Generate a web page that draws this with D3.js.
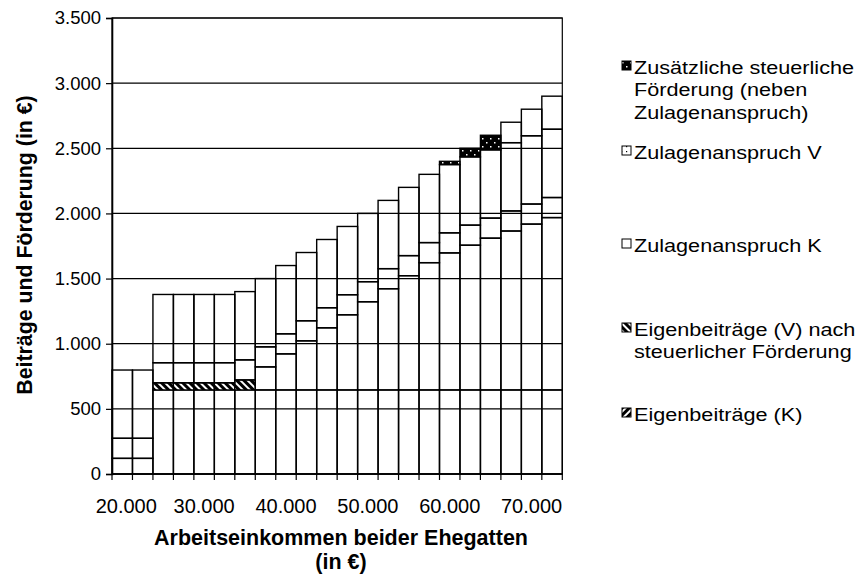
<!DOCTYPE html>
<html><head><meta charset="utf-8">
<script src="https://cdn.jsdelivr.net/npm/d3@7"></script>
<style>
body{margin:0;background:#fff;}
svg{display:block;font-family:"Liberation Sans",Arial,sans-serif;}
</style></head><body>
<div id="chart"></div>
<script>
// ---- data ----
const categories = [20000,22500,25000,27500,30000,32500,35000,37500,40000,42500,45000,47500,50000,52500,55000,57500,60000,62500,65000,67500,70000,72500];
const tickLabels = ["20.000","30.000","40.000","50.000","60.000","70.000"];
const tickLabelCats = [20000,30000,40000,50000,60000,70000];
const yTicks = [0,500,1000,1500,2000,2500,3000,3500];
const eigenK   = [120,120,645,645,645,645,645,645,645,645,645,645,645,645,645,645,645,645,645,645,645,645];
const eigenV   = [0,0,55,55,55,55,77,177,277,377,477,577,677,777,877,977,1052,1111,1165,1220,1273,1323];
const zulageK  = [154,154,154,154,154,154,154,154,154,154,154,154,154,154,154,154,154,154,154,154,154,154];
const zulageV  = [524,524,524,524,524,524,524,524,524,524,524,524,524,524,524,524,524,524,524,524,524,524];
const zusatz   = [0,0,0,0,0,0,0,0,0,0,0,0,0,0,0,0,25,66,112,157,204,254];
const seriesKeys = ["eigenK","eigenV","zulageK","zulageV","zusatz"];

// ---- setup ----
const W=861,H=575;
const svg=d3.select("#chart").append("svg").attr("width",W).attr("height",H);
const defs=svg.append("defs");
function hatch(id,angle){
  const p=defs.append("pattern").attr("id",id).attr("patternUnits","userSpaceOnUse")
    .attr("width",5).attr("height",5).attr("patternTransform",`rotate(${angle})`);
  p.append("rect").attr("width",5).attr("height",5).attr("fill","#000");
  p.append("rect").attr("width",2).attr("height",5).attr("fill","#fff");
}
hatch("hatchK",45);
hatch("hatchV",-45);
{
  const p=defs.append("pattern").attr("id","dotsBlack").attr("patternUnits","userSpaceOnUse").attr("width",8).attr("height",8);
  p.append("rect").attr("width",8).attr("height",8).attr("fill","#000");
  p.append("rect").attr("x",2).attr("y",2).attr("width",1.5).attr("height",1.5).attr("fill","#fff");
  p.append("rect").attr("x",6).attr("y",6).attr("width",1.5).attr("height",1.5).attr("fill","#fff");
  const q=defs.append("pattern").attr("id","dotsWhite").attr("patternUnits","userSpaceOnUse").attr("width",5).attr("height",5);
  q.append("rect").attr("width",5).attr("height",5).attr("fill","#fff");
  q.append("rect").attr("x",1).attr("y",1).attr("width",1.2).attr("height",1.2).attr("fill","#000");
}
const legendFill={eigenK:"url(#hatchK)",eigenV:"url(#hatchV)",zulageK:"#fff",zulageV:"url(#dotsWhite)",zusatz:"url(#dotsBlack)"};

const L=112,R=562.3,T=18,B=474;
const x=d3.scaleBand().domain(categories).range([L,R]).padding(0);
const y=d3.scaleLinear().domain([0,3500]).range([B,T]);
const de=d3.formatLocale({decimal:",",thousands:".",grouping:[3],currency:["","€"]});
const fmt=de.format(",d");

// gridlines
svg.append("g").selectAll("line").data(yTicks.filter(v=>v>0)).join("line")
  .attr("x1",L).attr("x2",R).attr("y1",d=>y(d)).attr("y2",d=>y(d))
  .attr("stroke","#000").attr("stroke-width",1.2);

// stacked bars
const rows=categories.map((c,i)=>({cat:c,eigenK:eigenK[i],eigenV:eigenV[i],zulageK:zulageK[i],zulageV:zulageV[i],zusatz:zusatz[i]}));
const stack=d3.stack().keys(seriesKeys)(rows);
function barFill(key,h){
  // thin segments show their pattern, larger ones appear unfilled as in the source
  if(key==="eigenV" && h<18) return "url(#hatchV)";
  if(key==="zusatz" && h<18) return "url(#dotsBlack)";
  return "none";
}
const g=svg.append("g");
stack.forEach(s=>{
  g.append("g").selectAll("rect").data(s.filter(d=>d[1]-d[0]>0)).join("rect")
    .attr("x",d=>x(d.data.cat)).attr("width",x.bandwidth())
    .attr("y",d=>y(d[1])).attr("height",d=>y(d[0])-y(d[1]))
    .attr("fill",d=>barFill(s.key,y(d[0])-y(d[1])))
    .attr("stroke","#000").attr("stroke-width",1.4);
});

// plot border
svg.append("rect").attr("x",L).attr("y",T).attr("width",R-L).attr("height",B-T)
  .attr("fill","none").attr("stroke","#000").attr("stroke-width",1.2);

// y axis
const ya=svg.append("g").attr("transform",`translate(${L},0)`)
  .call(d3.axisLeft(y).tickValues(yTicks).tickSize(6).tickPadding(5).tickFormat(fmt));
ya.select(".domain").attr("stroke","#000").attr("stroke-width",1.6);
ya.selectAll(".tick line").attr("stroke","#000").attr("stroke-width",1.2);
ya.selectAll("text").attr("font-size",18.5).attr("fill","#000").attr("font-family","Liberation Sans, Arial, sans-serif");

// x axis
svg.append("line").attr("x1",L).attr("x2",R).attr("y1",B).attr("y2",B).attr("stroke","#000").attr("stroke-width",1.6);
const edges=categories.map(c=>x(c)).concat([x(categories[categories.length-1])+x.bandwidth()]);
svg.append("g").selectAll("line").data(edges).join("line")
  .attr("x1",d=>d).attr("x2",d=>d).attr("y1",B).attr("y2",B+6)
  .attr("stroke","#000").attr("stroke-width",1.2);
svg.append("g").selectAll("text").data(tickLabelCats).join("text")
  .attr("x",(d,i)=>x(d)+x.bandwidth()/2+(i===0?4:0)).attr("y",513)
  .attr("text-anchor","middle").attr("font-size",20).attr("fill","#000")
  .text((d,i)=>tickLabels[i]);

// axis titles
const xt=svg.append("text").attr("text-anchor","middle")
  .attr("font-size",21.5).attr("font-weight","bold").attr("fill","#000");
xt.append("tspan").attr("x",341).attr("y",545).text("Arbeitseinkommen beider Ehegatten");
xt.append("tspan").attr("x",341).attr("y",569).text("(in €)");
svg.append("text").attr("transform","translate(32,245) rotate(-90)")
  .attr("text-anchor","middle").attr("font-size",21.3).attr("font-weight","bold").attr("fill","#000")
  .text("Beiträge und Förderung (in €)");

// legend (top entry = top series)
const legendItems=[
  {key:"zusatz",lines:["Zusätzliche steuerliche","Förderung (neben","Zulagenanspruch)"],y:74},
  {key:"zulageV",lines:["Zulagenanspruch V"],y:159},
  {key:"zulageK",lines:["Zulagenanspruch K"],y:252},
  {key:"eigenV",lines:["Eigenbeiträge (V) nach","steuerlicher Förderung"],y:336},
  {key:"eigenK",lines:["Eigenbeiträge (K)"],y:421}
];
const lg=svg.append("g");
legendItems.forEach(it=>{
  lg.append("rect").attr("x",622).attr("y",it.y-13).attr("width",9).attr("height",9)
    .attr("fill",legendFill[it.key]).attr("stroke","#000").attr("stroke-width",1);
  const t=lg.append("text").attr("font-size",18.5).attr("fill","#000")
    .attr("transform",`translate(634,${it.y}) scale(1.17,1)`);
  it.lines.forEach((ln,j)=>t.append("tspan").attr("x",0).attr("y",j*22.5).text(ln));
});
</script>
</body></html>
